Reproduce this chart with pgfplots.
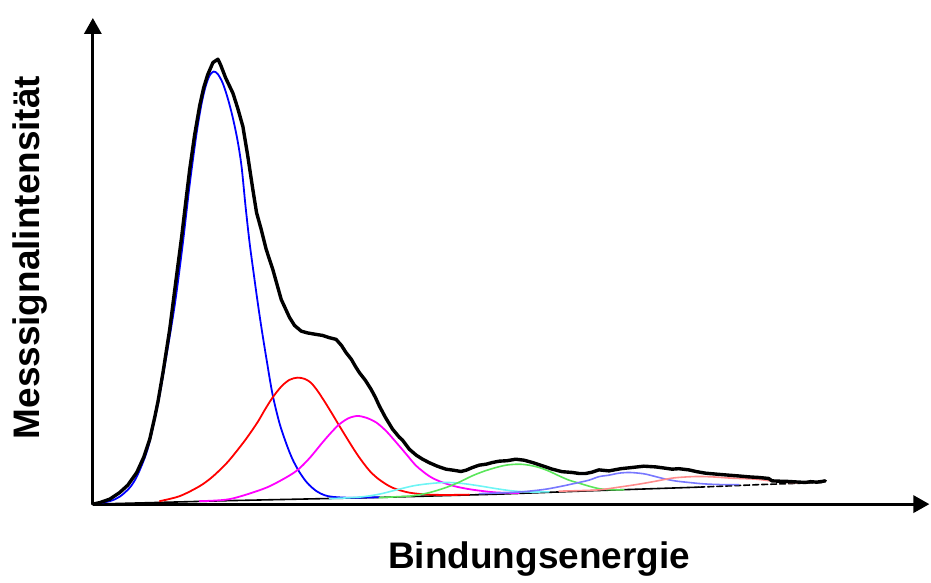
\documentclass[border=0pt]{standalone}
\usepackage{pgfplots}
\pgfplotsset{compat=1.18}
\usepackage{fontspec}
\setmainfont{Liberation Sans}
\usetikzlibrary{arrows.meta}

\definecolor{pkblue}{RGB}{0,0,255}
\definecolor{pkred}{RGB}{255,0,0}
\definecolor{pkmagenta}{RGB}{255,0,255}
\definecolor{pkcyan}{RGB}{110,245,245}
\definecolor{pkgreen}{RGB}{90,230,90}
\definecolor{pkviolet}{RGB}{120,120,255}
\definecolor{pkrose}{RGB}{255,140,140}

\begin{document}
\begin{tikzpicture}
\begin{axis}[
  x=0.5pt, y=0.5pt,
  xmin=93, xmax=931, ymin=0, ymax=487,
  axis lines=left,
  xtick=\empty, ytick=\empty,
  axis line style={line width=1.6pt, -{Triangle[length=8pt,width=8.5pt]}},
  clip=false,
  every axis plot/.append style={line join=round, line cap=round},
  comp/.style={smooth, tension=0.5},
]
% frame of the whole picture
\path (axis cs:0,-73) rectangle (axis cs:931,505);

% background line
\addplot[black, line width=0.8pt] coordinates {
  (93,0) (230,3.5) (380,6.7) (500,10) (590,13.3) (700,17)};
\addplot[black, line width=0.8pt, dash pattern=on 3pt off 1.5pt] coordinates {
  (700,17) (760,19.5) (823,21.7)};

% fitted components
\addplot[pkblue, line width=0.9pt, comp] coordinates {
  (93,0) (110,3) (120,7.5) (130,16.5) (137,27.5) (145,46.5) (150,63) (158,99)
  (163,127) (170,168) (176,206) (183,260) (190,320) (197,372) (202,401.5)
  (206,418.5) (210,429.4) (214,433.3) (218,431) (223,422) (228,407) (233,388)
  (238,364) (242,338) (246,298) (250,262) (254,232) (258,203) (262,176) (267,145)
  (273,110) (280,81) (287,60) (293,45) (300,32) (308,21) (317,13) (325,9)
  (333,7.3) (350,6.4) (380,6.9)};

\addplot[pkred, line width=0.9pt, comp] coordinates {
  (160,3) (180,8) (200,18) (213,27.5) (227,41) (237,53) (247,66) (258,82) (265,94)
  (273,106.7) (282,118) (290,124.5) (298,126.7) (305,125.5) (311,122) (317,115)
  (325,103) (333,90) (340,78.3) (350,62) (357,51) (363,42.5) (371,32.5) (380,24.5)
  (393,16.5) (410,11.5) (430,9.5) (450,9.2) (470,9.5)};

\addplot[pkmagenta, line width=0.9pt, comp] coordinates {
  (200,3) (230,5) (263,15) (280,23) (297,33.3) (310,46) (323,61.7) (332,72) (340,80)
  (349,86) (358,88.3) (367,86.5) (377,81.7) (387,73) (397,61.7) (407,50) (417,38.3)
  (430,28) (440,23) (455,18) (473,14.5) (497,11.7) (520,11.2)};

\addplot[pkcyan, line width=0.8pt, comp] coordinates {
  (330,5.5) (360,7) (380,10) (400,15) (415,18.5) (430,20.5) (447,21.7) (463,20.7)
  (480,18.3) (497,15.5) (513,13.3) (530,12.2) (550,12.3)};

\addplot[pkgreen, line width=0.8pt, comp] coordinates {
  (380,6.5) (400,7.5) (413,8.3) (430,11.5) (447,16.7) (460,22) (473,28.3) (485,33)
  (497,36.7) (508,39.2) (520,40) (530,39) (540,36.7) (550,33) (560,28.3) (570,24)
  (580,21) (590,18) (600,15.5) (610,14.5) (625,14.3)};

\addplot[pkviolet, line width=0.8pt, comp] coordinates {
  (480,10.5) (513,11.7) (530,13) (547,15) (563,18) (580,21.7) (590,24) (600,27.5)
  (610,29) (620,31) (630,31.7) (640,31) (647,30) (657,27.5) (667,25) (678,23)
  (690,21.7) (700,20.7) (710,20) (725,19.5) (740,19.5)};

\addplot[pkrose, line width=0.8pt, comp] coordinates {
  (560,13) (580,13.5) (600,14.3) (620,17) (640,20) (657,23) (673,26) (687,27.2)
  (700,27.7) (715,27.2) (733,26) (757,25) (777,22.7) (795,21.5) (810,21.5)};

% measured spectrum
\addplot[black, line width=1.7pt] coordinates {
  (93,0) (100,1.5) (110,5) (120,11.7) (128,19) (137,31.7) (144,47) (150,65) (155,87)
  (158.3,103) (163.3,132) (170,175) (176,222) (182,268) (186,302) (190,335) (195,370)
  (200,399) (204,417) (208,430) (213.3,442.3) (218.3,445.7) (221,440) (226,427)
  (233.3,411.7) (238,397) (243.3,378.3) (248,350) (253.3,315) (257,292) (261.7,275)
  (266.7,255) (273.3,235) (281.7,205) (290,187) (295,179) (301.7,173.3) (308,171.5)
  (316.7,170) (323,169) (330,166.7) (336.7,165) (342,159) (346.7,151.7) (352,145)
  (356,138) (360,131.7) (366,124) (371.7,115) (376,107) (380,98.3) (386,87)
  (393.3,75) (400,67) (403.3,64) (410,55) (417,49) (423.3,45) (430,41.5) (438,38)
  (446.7,35) (454,34) (461.7,32.7) (467,34) (473.3,36.7) (480,39) (487,40)
  (493.3,41.7) (500,43) (508,43.5) (516.7,45) (525,44) (533.3,41.7) (543,38.5)
  (553.3,35) (563,32.5) (573.3,31.7) (580,30.7) (586.7,30.7) (593,32) (600,34.3)
  (610,33.3) (622,35.5) (633.3,36.7) (645,38) (656.7,37.3) (665,36.2) (673.3,35)
  (680,35.5) (690,34.3) (698,32.5) (706.7,31) (718,30) (730,29) (740,28.2) (750,27.3)
  (760,26.7) (770,25.7) (773.3,23.3) (780,23) (790,22.7) (798,22.2) (806.7,21.7)
  (812,22.5) (818,22) (823.3,22.7) (826.7,23.3)};

% axis titles
\node[rotate=90, font=\fontsize{18.5}{22}\selectfont\bfseries] at (axis cs:30,247) {Messsignalintensität};
\node[font=\fontsize{18.5}{22}\selectfont\bfseries] at (axis cs:540,-55) {Bindungsenergie};
\end{axis}
\end{tikzpicture}
\end{document}
